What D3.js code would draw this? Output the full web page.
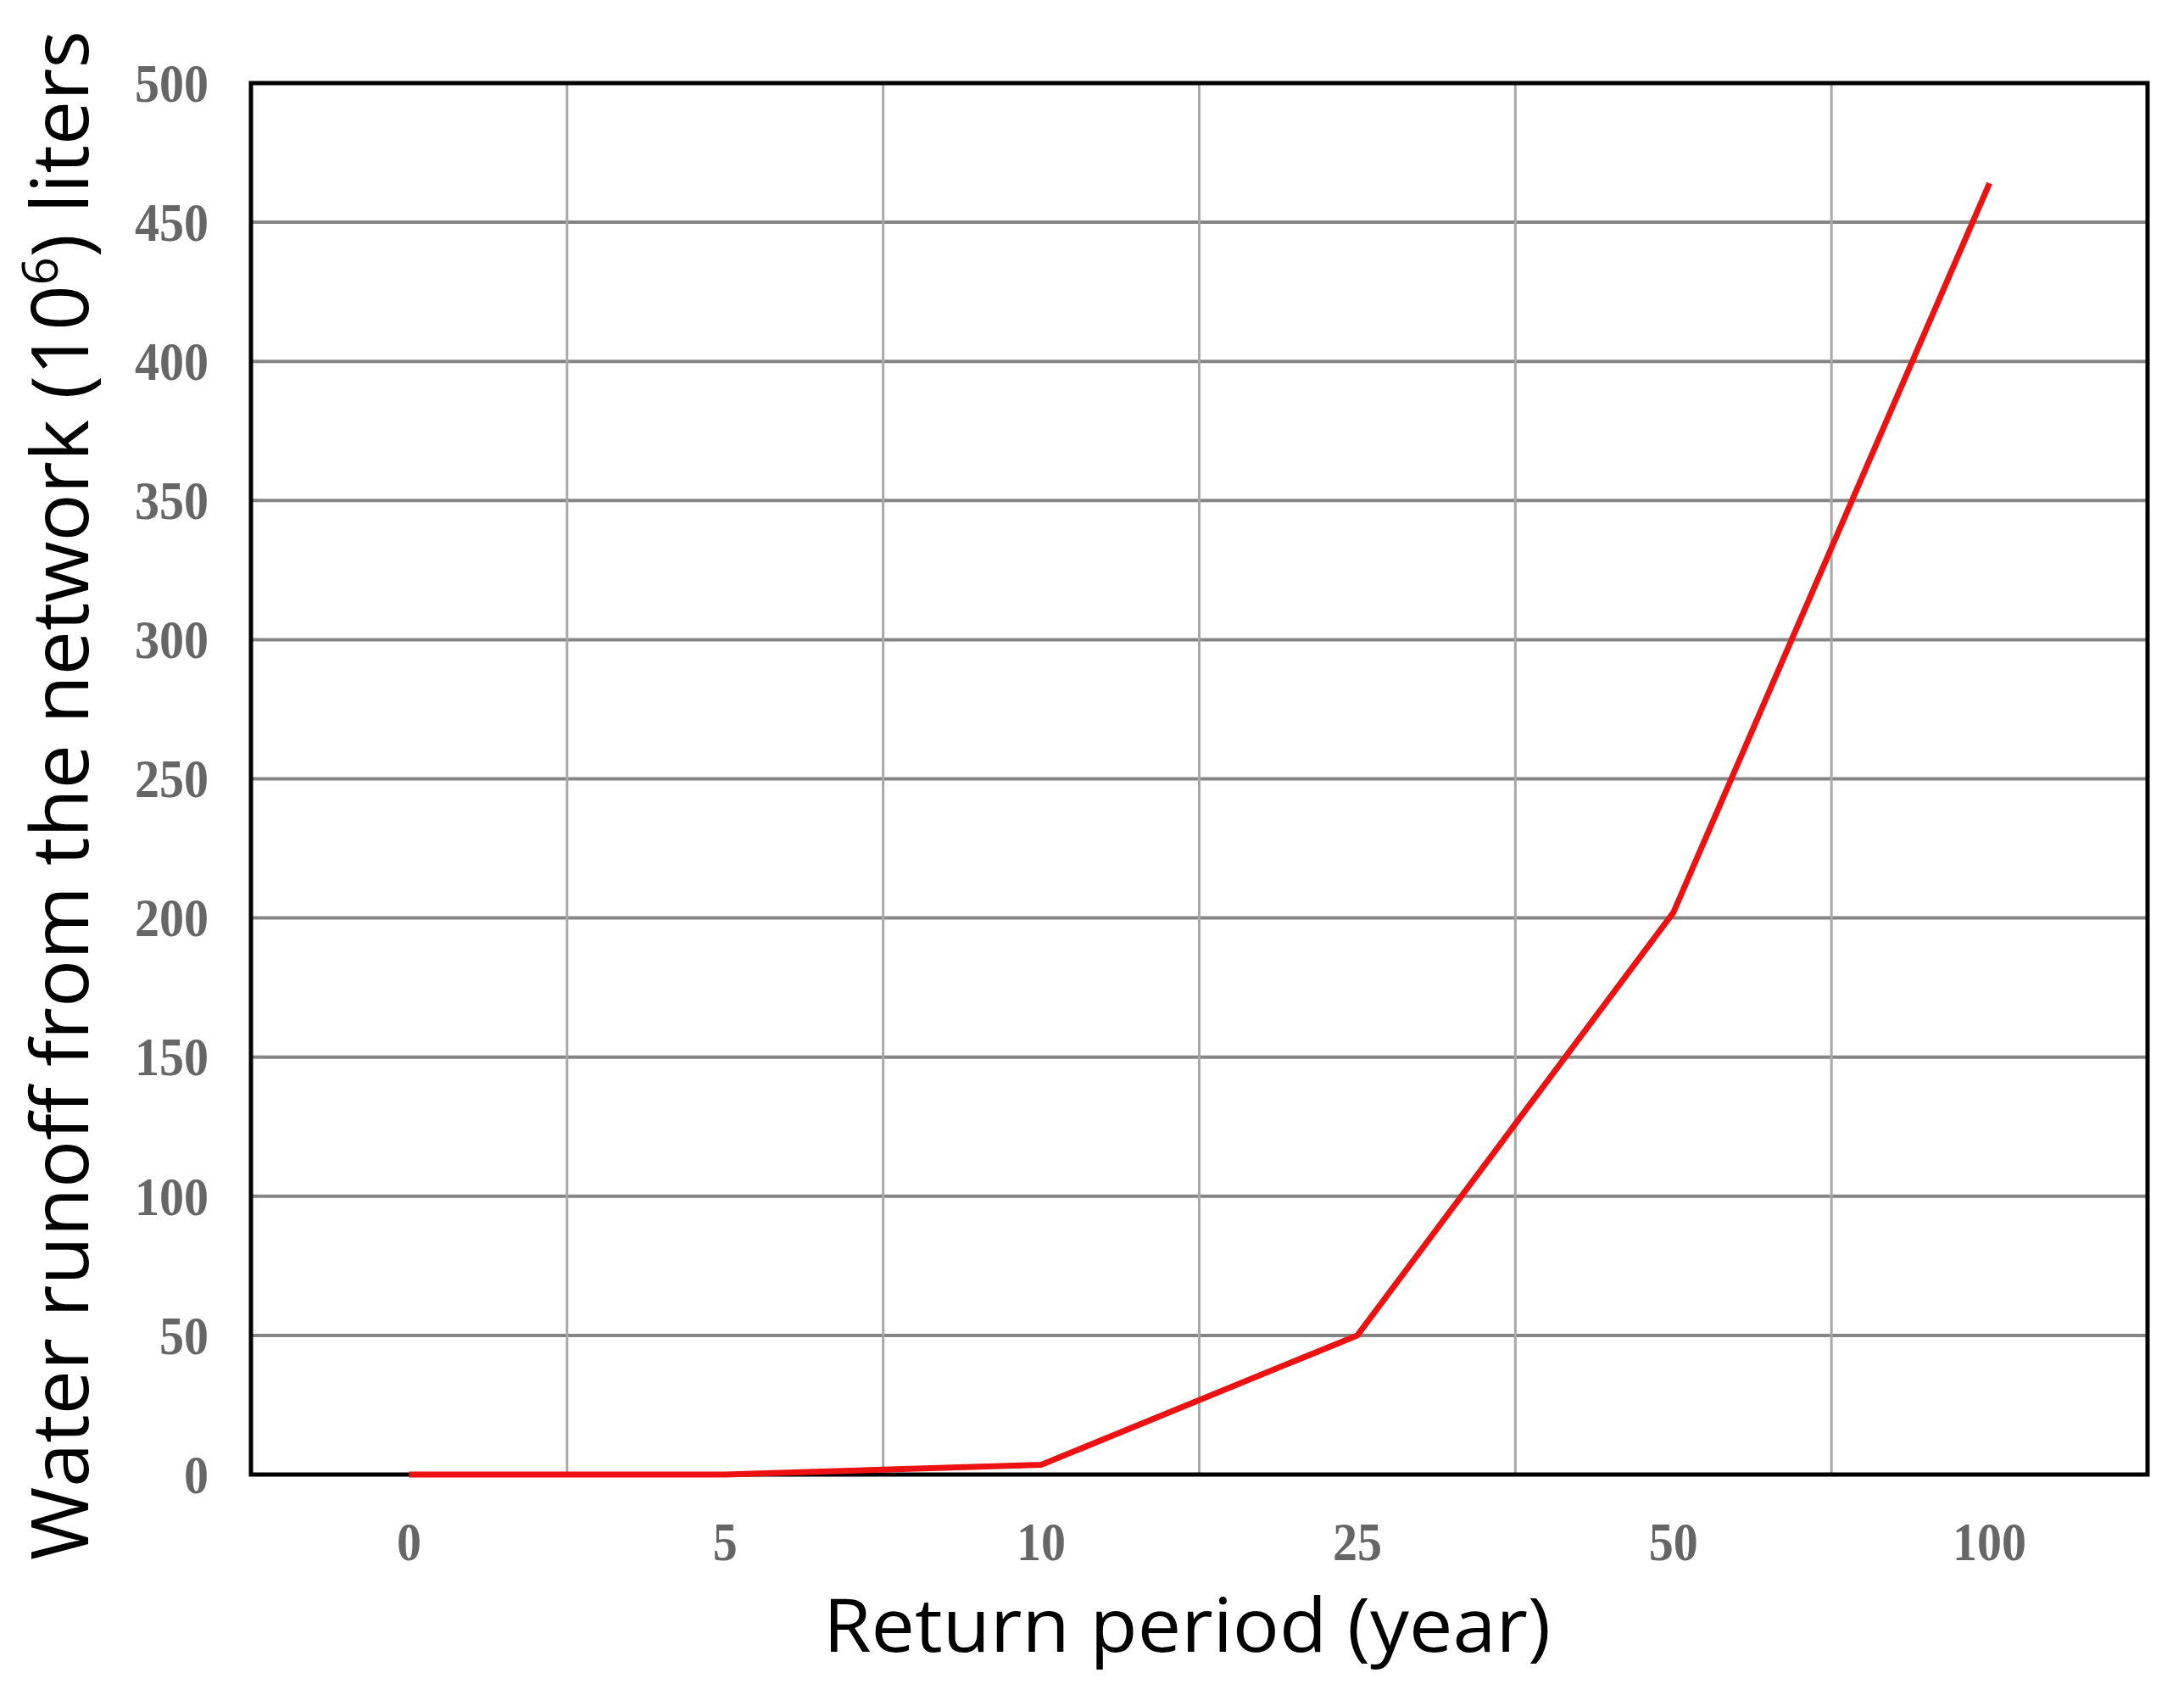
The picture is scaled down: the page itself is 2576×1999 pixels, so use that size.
<!DOCTYPE html>
<html lang="en">
  <head>
    <meta charset="utf-8">
    <title>Water runoff</title>
    <script type="text/javascript" src="https://d3js.org/d3.v7.min.js"></script>
    <style type="text/css">
      body {
      margin: 0;
      background: #fff;
      }
      .tick-label {
      font-family: "Liberation Serif", "Times New Roman", serif;
      font-weight: bold;
      fill: #666;
      }
      .title {
      font-family: "Open Sans", "Noto Sans", sans-serif;
      fill: #000;
      }
    </style>
  </head>
  <body>
    <script type="text/javascript">
      // return period categories and runoff values (10^6 liters)
      var periods = ["0", "5", "10", "25", "50", "100"];
      var runoff = [0, 0, 3.5, 50, 202, 464];
      var yTicks = [0, 50, 100, 150, 200, 250, 300, 350, 400, 450, 500];

      var width = 2576,
      height = 1999;

      // note: "top" is taken by window.top, so use plot* names
      var plotLeft = 296, plotRight = 2533, plotTop = 98, plotBottom = 1739;

      var svg = d3.select("body").append("svg")
      .attr("width", width)
      .attr("height", height);

      var xScale = d3.scaleBand()
      .domain(periods)
      .range([plotLeft, plotRight])
      .padding(0);

      var yScale = d3.scaleLinear()
      .domain([0, 500])
      .range([plotBottom, plotTop]);

      // horizontal grid
      svg.append("g")
      .selectAll("line")
      .data(yTicks)
      .enter().append("line")
      .attr("x1", plotLeft)
      .attr("x2", plotRight)
      .attr("y1", function(d){ return yScale(d); })
      .attr("y2", function(d){ return yScale(d); })
      .attr("stroke", "#858585")
      .attr("stroke-width", 4);

      // vertical grid at band edges
      svg.append("g")
      .selectAll("line")
      .data(periods.slice(1))
      .enter().append("line")
      .attr("x1", function(d){ return xScale(d); })
      .attr("x2", function(d){ return xScale(d); })
      .attr("y1", plotTop)
      .attr("y2", plotBottom)
      .attr("stroke", "#a8a8a8")
      .attr("stroke-width", 3);

      // frame
      svg.append("rect")
      .attr("x", plotLeft)
      .attr("y", plotTop)
      .attr("width", plotRight - plotLeft)
      .attr("height", plotBottom - plotTop)
      .attr("fill", "none")
      .attr("stroke", "#000")
      .attr("stroke-width", 5);

      // y tick labels
      svg.append("g")
      .selectAll("text")
      .data(yTicks)
      .enter().append("text")
      .attr("class", "tick-label")
      .attr("x", 246)
      .attr("y", function(d){ return yScale(d); })
      .attr("dy", "0.34em")
      .attr("text-anchor", "end")
      .attr("font-size", 64)
      .attr("textLength", function(d){ return String(d).length * 29; })
      .attr("lengthAdjust", "spacingAndGlyphs")
      .text(function(d){ return d; });

      // x tick labels
      svg.append("g")
      .selectAll("text")
      .data(periods)
      .enter().append("text")
      .attr("class", "tick-label")
      .attr("x", function(d){ return xScale(d) + xScale.bandwidth() / 2; })
      .attr("y", 1840)
      .attr("text-anchor", "middle")
      .attr("font-size", 64)
      .attr("textLength", function(d){ return d.length * 29; })
      .attr("lengthAdjust", "spacingAndGlyphs")
      .text(function(d){ return d; });

      // runoff line
      var line = d3.line()
      .x(function(d, i){ return xScale(periods[i]) + xScale.bandwidth() / 2; })
      .y(function(d){ return yScale(d); });

      svg.append("path")
      .datum(runoff)
      .attr("d", line)
      .attr("fill", "none")
      .attr("stroke", "#ee1111")
      .attr("stroke-width", 7)
      .attr("stroke-linejoin", "round");

      // axis titles
      svg.append("text")
      .attr("class", "title")
      .attr("x", 1400)
      .attr("y", 1948)
      .attr("text-anchor", "middle")
      .attr("font-size", 88)
      .attr("textLength", 858)
      .attr("lengthAdjust", "spacingAndGlyphs")
      .text("Return period (year)");

      var yTitle = svg.append("text")
      .attr("class", "title")
      .attr("transform", "translate(104,938) rotate(-90)")
      .attr("text-anchor", "middle")
      .attr("font-size", 94)
      .attr("textLength", 1804)
      .attr("lengthAdjust", "spacingAndGlyphs");

      yTitle.append("tspan").text("Water runoff from the network (10");
      yTitle.append("tspan").attr("font-size", 58).attr("dy", -36).text("6");
      yTitle.append("tspan").attr("dy", 36).text(") liters");
    </script>
  </body>
</html>
